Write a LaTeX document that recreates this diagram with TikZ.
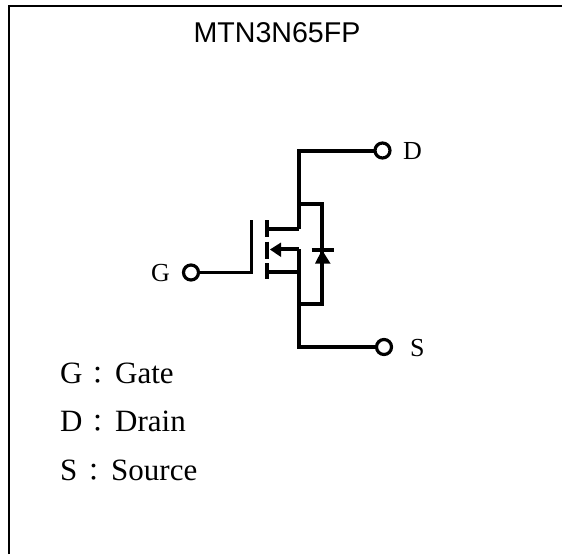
\documentclass[tikz,border=0pt]{standalone}
\usepackage{fontspec}
\setmainfont{Liberation Serif}
\newfontfamily\arialf{Liberation Sans}
\newfontfamily\cjkf{Noto Sans CJK TC}
\tikzset{
  wire/.style={line width=4pt,line cap=butt,line join=miter},
  gatewire/.style={line width=3.2pt,line join=miter},
  term/.style={circle,draw,line width=3.2pt,fill=white,minimum size=15pt,inner sep=0pt},
  lab/.style={font=\fontsize{26}{26}\selectfont,inner sep=0pt,anchor=base west},
  legend/.style={font=\fontsize{31}{31}\selectfont,inner sep=0pt,anchor=base west},
  colonmark/.style={inner sep=0pt,font=\fontsize{25}{25}\cjkf,anchor=base},
  frameline/.style={line width=2.2pt}
}
\begin{document}
\begin{tikzpicture}[x=1pt,y=-1pt]
\useasboundingbox (0,0) rectangle (562,554);
\fill[white] (0,0) rectangle (562,554);
\draw[frameline] (9,554) -- (9,6) -- (562,6);
\node[inner sep=0pt,anchor=base,font=\fontsize{28.6}{28.6}\arialf] (title) at (277,42) {MTN3N65FP};
% terminals
\coordinate (dtop) at (298.5,150.5);
\coordinate (sbot) at (298.5,347);
\coordinate (dstub) at (298.5,229);
\coordinate (sstub) at (298.5,272);
\coordinate (bstub) at (298.5,249);
\coordinate (dj) at (298.5,203.5);
\coordinate (sj) at (298.5,303.5);
\coordinate (dr) at (322,203.5);
\coordinate (sr) at (322,303.5);
\coordinate (gc) at (251.5,272.5);
\coordinate (gt) at (251.5,220);
\coordinate (dterm) at (382.5,150.5);
\coordinate (sterm) at (384,347);
\coordinate (gterm) at (191,272.5);
% main
\draw[wire] (dterm) -- (dtop) -- (dstub);
\draw[wire] (bstub) -- (sbot) -- (sterm);
\draw[wire] (dj) -- (dr) -- (sr) -- (sj);
\draw[wire] (267,229) -- (dstub);
\draw[wire] (267,272) -- (sstub);
\draw[wire] (275,249) -- (bstub);
% channel plates
\draw[line width=4.6pt] (267,220) -- (267,237);
\draw[line width=4.6pt] (267,241.5) -- (267,258.5);
\draw[line width=4.6pt] (267,263) -- (267,278.5);
% gate
\draw[gatewire] (gterm) -- (gc) -- (gt);
% body arrow
\fill (270,249.5) -- (281,242.5) -- (281,257) -- cycle;
% diode
\draw[wire] (311.5,249.5) -- (333.5,249.5);
\fill (322,250) -- (330.5,263.5) -- (315,263.5) -- cycle;
% terminal circles on top of wires
\node[term] (D) at (dterm) {};
\node[term] (S) at (sterm) {};
\node[term] (G) at (gterm) {};
% labels
\node[lab] (lD) at (403,159) {D};
\node[lab] (lS) at (410,356) {S};
\node[lab] (lG) at (151,281) {G};
\node[legend] (l1) at (60,383) {G};
\node[legend] (l1b) at (115,383) {Gate};
\node[legend] (l2) at (60,431.5) {D};
\node[legend] (l2b) at (115,431.5) {Drain};
\node[legend] (l3) at (60,480) {S};
\node[legend] (l3b) at (111,480) {Source};
\node[colonmark] (c1) at (97.5,384) {：};
\node[colonmark] (c2) at (97.5,432.5) {：};
\node[colonmark] (c3) at (93.5,481) {：};
\end{tikzpicture}
\end{document}
